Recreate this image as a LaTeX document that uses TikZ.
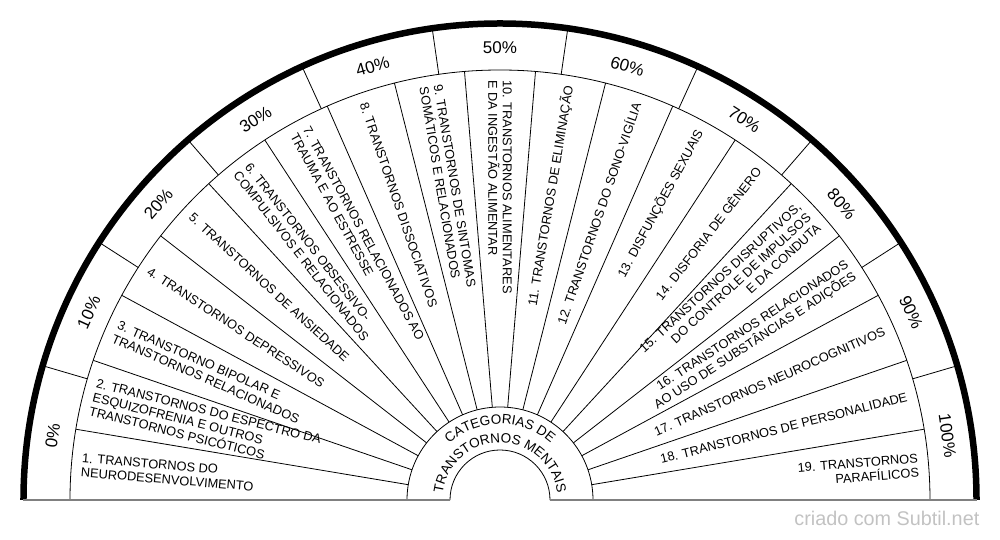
\documentclass[tikz,border=0pt]{standalone}
\usepackage{fontspec}
\setmainfont{Liberation Sans}
\usetikzlibrary{decorations.text}

\tikzset{
  thinline/.style={line width=0.8pt},
  rimline/.style={line width=6.5pt},
  baseline/.style={black!50,line width=1.5pt},
  catlabel/.style={inner sep=0pt,font=\fontsize{12.8}{14.4}\selectfont},
  pctlabel/.style={inner sep=0pt,font=\fontsize{17}{20}\selectfont},
}

\begin{document}
\begin{tikzpicture}[x=1pt,y=1pt]
  \useasboundingbox (-500,-40) rectangle (500,500);

  % rings and rim
  \draw[thinline] (-50,0) arc[start angle=180,end angle=0,radius=50];
  \draw[thinline] (-93,0) arc[start angle=180,end angle=0,radius=93];
  \draw[thinline] (-430,0) arc[start angle=180,end angle=0,radius=430];
  \draw[rimline] (-476.5,0) arc[start angle=180,end angle=0,radius=476.5];
  \draw[baseline] (-476.5,0) -- (-50,0);
  \draw[baseline] (50,0) -- (476.5,0);

  % spokes
  \foreach \i in {1,...,18}
    \draw[thinline] (180-\i*180/19:93) -- (180-\i*180/19:430);
  \foreach \i in {1,...,10}
    \draw[thinline] (180-\i*180/11:430) -- (180-\i*180/11:476.5);

  % percentages
  \foreach \p [count=\j from 0, evaluate=\j as \a using 180-(\j+0.5)*180/11] in {0,10,...,100}
    \node[pctlabel,rotate=\a-90] (pct\p) at (\a:452) {\p\%};

  % categories, left half
  \foreach \k/\txt [evaluate=\k as \a using 180-(\k-0.5)*180/19] in {
      1/{1. TRANSTORNOS DO\\NEURODESENVOLVIMENTO},
      2/{2. TRANSTORNOS DO ESPECTRO DA\\ESQUIZOFRENIA E OUTROS\\TRANSTORNOS PSICÓTICOS},
      3/{3. TRANSTORNO BIPOLAR E\\TRANSTORNOS RELACIONADOS},
      4/{4. TRANSTORNOS DEPRESSIVOS},
      5/{5. TRANSTORNOS DE ANSIEDADE},
      6/{6. TRANSTORNOS OBSESSIVO-\\COMPULSIVOS E RELACIONADOS},
      7/{7. TRANSTORNOS RELACIONADOS AO\\TRAUMA E AO ESTRESSE},
      8/{8. TRANSTORNOS DISSOCIATIVOS},
      9/{9. TRANSTORNOS DE SINTOMAS\\SOMÁTICOS E RELACIONADOS},
      10/{10. TRANSTORNOS ALIMENTARES\\E DA INGESTÃO ALIMENTAR}}
    \node[catlabel,anchor=west,align=left,rotate=\a-180] (cat\k) at (\a:420) {\txt};

  % categories, right half
  \foreach \k/\txt [evaluate=\k as \a using 180-(\k-0.5)*180/19] in {
      11/{11. TRANSTORNOS DE ELIMINAÇÃO},
      12/{12. TRANSTORNOS DO SONO-VIGÍLIA},
      13/{13. DISFUNÇÕES SEXUAIS},
      14/{14. DISFORIA DE GÊNERO},
      15/{15. TRANSTORNOS DISRUPTIVOS,\\DO CONTROLE DE IMPULSOS\\E DA CONDUTA},
      16/{16. TRANSTORNOS RELACIONADOS\\AO USO DE SUBSTÂNCIAS E ADIÇÕES},
      17/{17. TRANSTORNOS NEUROCOGNITIVOS},
      18/{18. TRANSTORNOS DE PERSONALIDADE},
      19/{19. TRANSTORNOS\\PARAFÍLICOS}}
    \node[catlabel,anchor=east,align=right,rotate=\a] (cat\k) at (\a:420) {\txt};

  % centre title
  \path[decorate,decoration={text along path,text align=center,
      text={|\fontsize{13.5}{16}\selectfont|CATEGORIAS DE}}]
    (-76,0) arc[start angle=180,end angle=0,radius=76];
  \path[decorate,decoration={text along path,text align=center,
      text={|\fontsize{13.5}{16}\selectfont|TRANSTORNOS MENTAIS}}]
    (-57.5,0) arc[start angle=180,end angle=0,radius=57.5];

  \node[anchor=base east,inner sep=0pt,text=black!24,font=\fontsize{19.8}{22}\selectfont] (credit) at (479.5,-25.7) {criado com Subtil.net};
\end{tikzpicture}
\end{document}
